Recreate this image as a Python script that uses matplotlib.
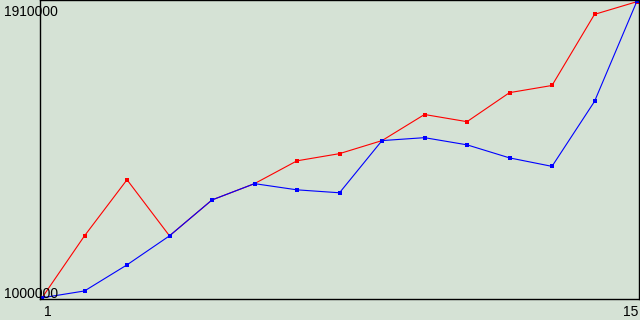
import matplotlib
matplotlib.use("Agg")
import matplotlib.pyplot as plt

# data
x = list(range(1, 16))
red = [1000000, 1190000, 1362000, 1190000, 1300000, 1350000, 1420000, 1442000,
       1482000, 1562000, 1540000, 1629000, 1651000, 1869000, 1908000]
blue = [1000000, 1021000, 1101000, 1190000, 1300000, 1350000, 1331000, 1322000,
        1482000, 1491000, 1469000, 1429000, 1403000, 1602000, 1910000]
y_labels = ["1000000", "1910000"]
x_labels = ["1", "15"]

bg = "#d5e2d5"
W, H = 640, 320

fig = plt.figure(figsize=(6.4, 3.2), dpi=100, facecolor=bg)
# axes frame: left 40px, right 639px, top 0px, bottom 299px
ax = fig.add_axes([40 / W, (H - 299) / H, 599 / W, 299 / H], facecolor=bg)

ax.plot(x, red, color="#ff0000", lw=0.8, marker="s", ms=2.3, mew=0)
ax.plot(x, blue, color="#0000ff", lw=0.8, marker="s", ms=2.3, mew=0)

px_y = 910000 / 297
ax.set_ylim(1000000 - 1.2 * px_y, 1910000 + 1.0 * px_y)
px_x = 14 / 595
ax.set_xlim(1 - 2 * px_x, 15 + 2 * px_x)

ax.set_xticks([])
ax.set_yticks([])
for s in ["left", "bottom", "top", "right"]:
    ax.spines[s].set_color("black")
    ax.spines[s].set_linewidth(1.0)

font = dict(family="Liberation Sans", size=10, color="black")
fig.text(4 / W, 1 - 15.5 / H, y_labels[1], ha="left", va="baseline", **font)
fig.text(4 / W, 1 - 297.5 / H, y_labels[0], ha="left", va="baseline", **font)
fig.text(44 / W, 1 - 316 / H, x_labels[0], ha="left", va="baseline", **font)
fig.text(638 / W, 1 - 316 / H, x_labels[1], ha="right", va="baseline", **font)

fig.savefig("out.png", dpi=100, facecolor=bg)
